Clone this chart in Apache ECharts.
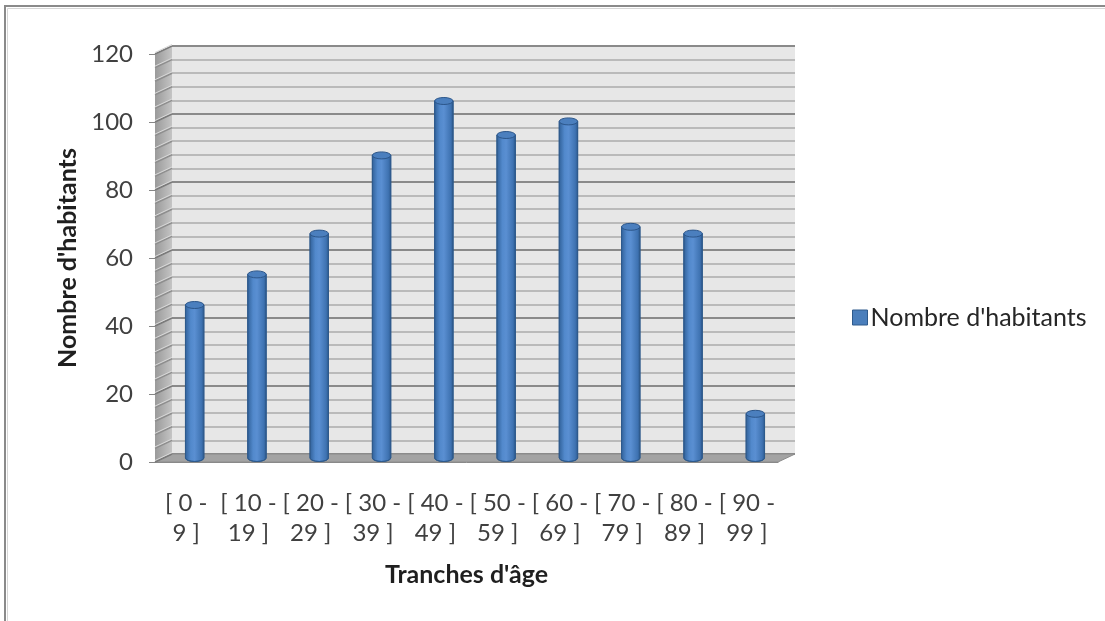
<!DOCTYPE html>
<html>
<head>
<meta charset="utf-8">
<script src="https://cdn.jsdelivr.net/npm/echarts@6/dist/echarts.min.js"></script>
<style>
html,body{margin:0;padding:0;background:#fff;}
#chart{width:1105px;height:621px;}
</style>
</head>
<body>
<div id="chart"></div>
<script>
const categories = ['[ 0 - 9 ]','[ 10 - 19 ]','[ 20 - 29 ]','[ 30 - 39 ]','[ 40 - 49 ]','[ 50 - 59 ]','[ 60 - 69 ]','[ 70 - 79 ]','[ 80 - 89 ]','[ 90 - 99 ]'];
const habitants = [45, 54, 66, 89, 105, 95, 99, 68, 66, 13];
const seriesName = "Nombre d'habitants";
const yAxisTitle = "Nombre d'habitants";
const xAxisTitle = "Tranches d'âge";
const yMin = 0, yMax = 120, yStep = 20;

const FONT = 'Lato, "Open Sans", sans-serif';
const chart = echarts.init(document.getElementById('chart'), null, {renderer:'canvas'});

function renderCylinder(params, api){
  const idx = api.value(0), v = api.value(1);
  const top = api.coord([idx, v]);
  const base = api.coord([idx, 0]);
  const w = api.size([1, 0])[0] * 0.295;
  const rx = w / 2, ry = 3.5;
  const x0 = top[0] - rx, x1 = top[0] + rx;
  const body = `M ${x0} ${top[1]} L ${x0} ${base[1]} A ${rx} ${ry} 0 0 0 ${x1} ${base[1]} L ${x1} ${top[1]} Z`;
  const cap = `M ${x0} ${top[1]} A ${rx} ${ry} 0 1 0 ${x1} ${top[1]} A ${rx} ${ry} 0 1 0 ${x0} ${top[1]} Z`;
  return {
    type:'group',
    children:[
      {type:'path', shape:{pathData: body},
        style:{fill: new echarts.graphic.LinearGradient(0,0,1,0,[
          {offset:0,color:'#2f5f97'},{offset:0.3,color:'#5289cc'},{offset:0.5,color:'#5a8fd2'},{offset:0.85,color:'#3f73b2'},{offset:1,color:'#2b578c'}]),
          stroke:'#2e5a8c', lineWidth:1}},
      {type:'path', shape:{pathData: cap},
        style:{fill:'#4b7fbe', stroke:'#2c568a', lineWidth:1}}
    ]
  };
}

const option = {
  animation:false,
  backgroundColor:'#ffffff',
  textStyle:{fontFamily:FONT},
  legend:{
    left:847, top:300, itemWidth:15, itemHeight:15, itemGap:6,
    icon:'rect',
    data:[{name:seriesName, itemStyle:{color:'#4a7ebb', borderColor:'#2e5a8c', borderWidth:1}}],
    textStyle:{fontFamily:FONT, fontSize:25, color:'#262626', padding:[0,0,0,-2]}
  },
  grid:[
    {left:172, top:46, width:623, height:408, show:true, backgroundColor:'#e7e7e7', borderWidth:0},
    {left:155, top:54, width:623, height:408, show:false},
    {left:163.5, top:50, width:623, height:408, show:false}
  ],
  xAxis:[
    {gridIndex:0, type:'category', data:categories, show:false},
    {gridIndex:1, type:'category', data:categories,
      axisLine:{show:true, lineStyle:{color:'#868686', width:1}},
      axisTick:{show:false},
      axisLabel:{interval:0, fontSize:24, color:'#404040', lineHeight:30, margin:26, fontFamily:FONT,
        formatter:(s)=>s.replace('- ','-\n')},
      name:xAxisTitle, nameLocation:'middle', nameGap:100,
      nameTextStyle:{fontSize:25, fontWeight:'bold', color:'#1f1f1f', fontFamily:FONT}
    },
    {gridIndex:2, type:'category', data:categories, show:false}
  ],
  yAxis:[
    {gridIndex:0, type:'value', min:yMin, max:yMax, interval:yStep,
      axisLine:{show:false}, axisTick:{show:false}, axisLabel:{show:false},
      splitLine:{show:true, lineStyle:{color:'#8a8a8a', width:2}},
      minorTick:{show:false, splitNumber:5},
      minorSplitLine:{show:true, lineStyle:{color:'#acacac', width:1.5}}
    },
    {gridIndex:1, type:'value', min:yMin, max:yMax, interval:yStep,
      axisLine:{show:true, lineStyle:{color:'#868686', width:1}},
      axisTick:{show:true, length:6, lineStyle:{color:'#868686'}},
      axisLabel:{fontSize:24, color:'#404040', margin:22, fontFamily:FONT},
      splitLine:{show:false},
      name:yAxisTitle, nameLocation:'middle', nameRotate:90, nameGap:74,
      nameTextStyle:{fontSize:25, fontWeight:'bold', color:'#1f1f1f', fontFamily:FONT}
    },
    {gridIndex:2, type:'value', min:yMin, max:yMax, interval:yStep, show:false, splitLine:{show:false}}
  ],
  series:[
    {type:'custom', name:seriesName, xAxisIndex:2, yAxisIndex:2, z:5,
      itemStyle:{color:'#4a7ebb'},
      data: habitants.map((v,i)=>[i, v]),
      renderItem: renderCylinder}
  ]
};
chart.setOption(option);

// 3D decorations (side wall, floor, frame) from the axes' own scales
function decorations(){
  const g = [];
  const yF = v => chart.convertToPixel({yAxisIndex:1}, v);
  const yB = v => chart.convertToPixel({yAxisIndex:0}, v);
  const frontL = 155, backL = 172;
  const frontR = 155 + 623, backR = 172 + 623;
  // side wall
  g.push({type:'polygon', z:1, shape:{points:[[frontL,yF(yMax)],[backL,yB(yMax)],[backL,yB(yMin)],[frontL,yF(yMin)]]},
    style:{fill:new echarts.graphic.LinearGradient(0,0,1,0,[{offset:0,color:'#9a9a9a'},{offset:1,color:'#c4c4c4'}])}});
  for(let v=yMin; v<=yMax; v+=yStep/5){
    g.push({type:'line', z:2, shape:{x1:frontL,y1:yF(v),x2:backL,y2:yB(v)},
      style:{stroke: (v%yStep===0)?'#7a7a7a':'#8e8e8e', lineWidth:1.5}});
    g.push({type:'line', z:2, shape:{x1:frontL,y1:yF(v)-1.5,x2:backL,y2:yB(v)-1.5},
      style:{stroke:'#d8d8d8', lineWidth:1}});
  }
  // floor
  g.push({type:'polygon', z:1, shape:{points:[[frontL,yF(0)],[backL,yB(0)],[backR,yB(0)],[frontR,yF(0)]]},
    style:{fill:'#a3a3a3', stroke:'#8c8c8c', lineWidth:1}});
  // outer frame
  g.push({type:'polyline', z:0, shape:{points:[[5,640],[5,6],[1120,6]]}, style:{stroke:'#8a8a8a', lineWidth:2, fill:null}});
  g.push({type:'polyline', z:0, shape:{points:[[7.5,640],[7.5,8.5],[1120,8.5]]}, style:{stroke:'#d6d6d6', lineWidth:1, fill:null}});
  chart.setOption({graphic:{elements:g}});
}
decorations();
</script>
</body>
</html>
